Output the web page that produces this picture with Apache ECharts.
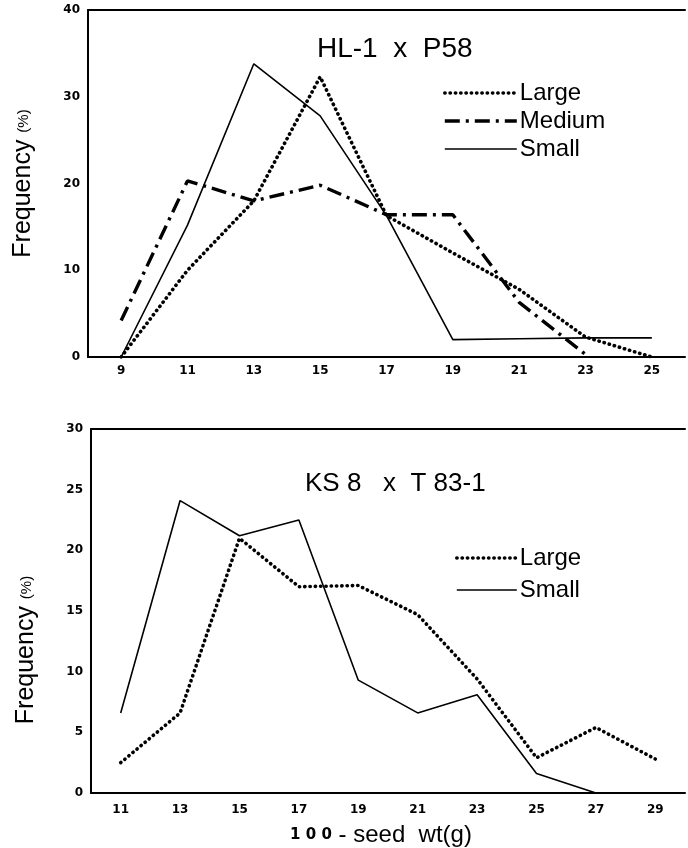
<!DOCTYPE html>
<html>
<head>
<meta charset="utf-8">
<script src="https://cdn.jsdelivr.net/npm/echarts@6/dist/echarts.min.js"></script>
<style>
  html, body { margin: 0; padding: 0; background: #fff; }
  #chart { width: 688px; height: 848px; }
</style>
</head>
<body>
<div id="chart"></div>
<script>
// top panel: HL-1 x P58
const xTop = [9, 11, 13, 15, 17, 19, 21, 23, 25];
const largeTop = [0, 10, 18, 32.3, 16.3, 12, 7.8, 2.3, 0];
const mediumTop = [4.2, 20.3, 18, 19.8, 16.4, 16.4, 6.3, 0.3];
const smallTop = [0, 15.2, 33.8, 27.8, 16.3, 2.0, 2.1, 2.2, 2.2];

// bottom panel: KS 8 x T 83-1
const xBot = [11, 13, 15, 17, 19, 21, 23, 25, 27, 29];
const largeBot = [2.5, 6.6, 21, 17, 17.1, 14.7, 9.4, 2.9, 5.4, 2.8];
const smallBot = [6.6, 24.1, 21.2, 22.5, 9.3, 6.6, 8.1, 1.6, 0];

const pairs = (xs, ys) => ys.map((y, i) => [xs[i], y]);

const DOTTED = { color: "#000", width: 3.6, type: [0.3, 5], cap: "round" };
const DASHDOT = { color: "#000", width: 3.4, type: [15, 6, 3, 6] };
const SOLID = { color: "#000", width: 1.6, type: "solid" };

const tickFont = { color: "#000", fontFamily: "DejaVu Sans", fontWeight: "bold", fontSize: 12 };
const oddOnly = v => (Math.round(v) % 2 === 1 ? String(v) : "");

function xAxisCfg(grid, min, max, withName, margin) {
  const ax = {
    type: "value", gridIndex: grid, min: min, max: max, interval: 1,
    axisLine: { lineStyle: { color: "#000", width: 2 } },
    axisTick: { show: false },
    splitLine: { show: false },
    axisLabel: Object.assign({ formatter: oddOnly, margin: margin }, tickFont)
  };
  if (withName) {
    ax.name = "{a|1 0 0} - seed  wt(g)";
    ax.nameLocation = "middle";
    ax.nameGap = 30;
    ax.nameTextStyle = {
      color: "#000", fontFamily: "Liberation Sans", fontSize: 24, padding: [0, 14, 0, 0],
      rich: { a: { fontFamily: "DejaVu Sans", fontWeight: "bold", fontSize: 15, color: "#000" } }
    };
  }
  return ax;
}

// top frame line of each panel
function topLine(grid, min, max) {
  return {
    type: "value", gridIndex: grid, position: "top", min: min, max: max,
    axisLine: { show: true, lineStyle: { color: "#000", width: 2 } },
    axisTick: { show: false }, axisLabel: { show: false }, splitLine: { show: false }
  };
}

function yAxisCfg(grid, max, interval, pad) {
  return {
    type: "value", gridIndex: grid, min: 0, max: max, interval: interval,
    axisLine: { show: true, lineStyle: { color: "#000", width: 2 } },
    axisTick: { show: false },
    splitLine: { show: false },
    axisLabel: Object.assign({ margin: 8 }, tickFont),
    name: "Frequency {s|(%)}",
    nameLocation: "middle",
    nameRotate: 90,
    nameGap: 52,
    nameTextStyle: {
      color: "#000", fontFamily: "Liberation Sans", fontSize: 25, padding: pad,
      rich: { s: { fontFamily: "Liberation Sans", fontSize: 15, color: "#000" } }
    }
  };
}

function lineSeries(name, grid, data, style) {
  return {
    name: name, type: "line", xAxisIndex: grid, yAxisIndex: grid,
    data: data, symbol: "none", lineStyle: style, silent: true
  };
}

const legendText = { fontFamily: "Liberation Sans", fontSize: 24, color: "#000", padding: [0, 0, 0, -2] };

const chart = echarts.init(document.getElementById("chart"));
chart.setOption({
  backgroundColor: "#fff",
  animation: false,
  title: [
    { text: "HL-1  x  P58", left: 312, top: 30,
      textStyle: { fontFamily: "Liberation Sans", fontWeight: "normal", fontSize: 28, color: "#000" } },
    { text: "KS 8   x  T 83-1", left: 300, top: 466,
      textStyle: { fontFamily: "Liberation Sans", fontWeight: "normal", fontSize: 26, color: "#000" } }
  ],
  legend: [
    { orient: "vertical", left: 438, top: 76,
      itemWidth: 72, itemHeight: 14, itemGap: 4, selectedMode: false,
      itemStyle: { opacity: 0 }, textStyle: legendText,
      data: [
        { name: "Large", lineStyle: DOTTED },
        { name: "Medium", lineStyle: DASHDOT },
        { name: "Small", lineStyle: SOLID }
      ] },
    { orient: "vertical", left: 450, top: 541,
      itemWidth: 60, itemHeight: 14, itemGap: 8, selectedMode: false,
      itemStyle: { opacity: 0 }, textStyle: legendText,
      data: [
        { name: "Large", lineStyle: DOTTED },
        { name: "Small", lineStyle: SOLID }
      ] }
  ],
  grid: [
    { left: 88, top: 10, right: 0, height: 347 },
    { left: 91, top: 429, right: 0, height: 375 }
  ],
  xAxis: [
    xAxisCfg(0, 8, 26, false, 8), xAxisCfg(1, 10, 30, true, 11),
    topLine(0, 8, 26), topLine(1, 10, 30)
  ],
  yAxis: [yAxisCfg(0, 40, 10, 0), yAxisCfg(1, 30, 5, [0, 78, 0, 0])],
  series: [
    lineSeries("Large", 0, pairs(xTop, largeTop), DOTTED),
    lineSeries("Medium", 0, pairs(xTop, mediumTop), DASHDOT),
    lineSeries("Small", 0, pairs(xTop, smallTop), SOLID),
    lineSeries("Large", 1, pairs(xBot, largeBot), DOTTED),
    lineSeries("Small", 1, pairs(xBot, smallBot), SOLID)
  ]
});
</script>
</body>
</html>
